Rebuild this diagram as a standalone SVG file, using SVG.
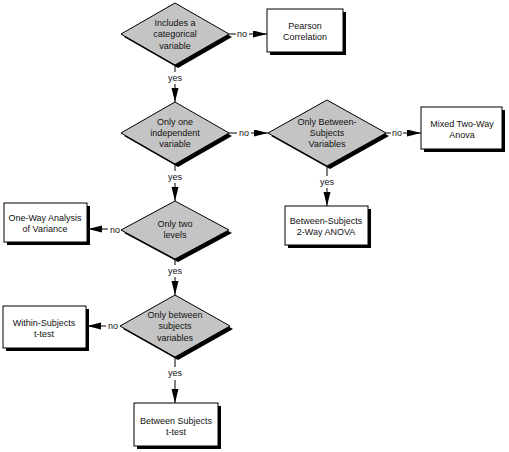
<svg xmlns="http://www.w3.org/2000/svg" width="509" height="452" viewBox="0 0 509 452">
<style>
  .bg{fill:#ffffff}
  .box{fill:#ffffff;stroke:#000;stroke-width:1}
  .dia{fill:#c4c4c4;stroke:#000;stroke-width:1}
  .sh{fill:#000;stroke:none}
  .t{font-family:"Liberation Sans",Arial,sans-serif;font-size:9px;fill:#111;text-anchor:middle}
  .ln{stroke:#000;stroke-width:1;fill:none}
</style>
<defs>
  <marker id="ah" markerUnits="userSpaceOnUse" markerWidth="15" markerHeight="8" refX="14" refY="3.5" orient="auto">
    <path d="M0,0 L14,3.5 L0,7 Z" fill="#000"/>
  </marker>
</defs>
<rect class="bg" x="0" y="0" width="509" height="452"/>

<g id="connectors">
  <!-- d1 -> pearson -->
  <line class="ln" x1="229" y1="34" x2="236" y2="34"/>
  <text class="t" x="242" y="37">no</text>
  <line class="ln" x1="249" y1="34" x2="267" y2="34" marker-end="url(#ah)"/>
  <!-- d1 -> d2 -->
  <line class="ln" x1="175" y1="65" x2="175" y2="72"/>
  <text class="t" x="175" y="81">yes</text>
  <line class="ln" x1="175" y1="84" x2="175" y2="102" marker-end="url(#ah)"/>
  <!-- d2 -> d2b -->
  <line class="ln" x1="229" y1="133" x2="237" y2="133"/>
  <text class="t" x="244" y="136">no</text>
  <line class="ln" x1="251" y1="133" x2="268" y2="133" marker-end="url(#ah)"/>
  <!-- d2b -> mixed -->
  <line class="ln" x1="386" y1="133" x2="391" y2="133"/>
  <text class="t" x="397" y="136">no</text>
  <line class="ln" x1="403" y1="133" x2="421" y2="133" marker-end="url(#ah)"/>
  <!-- d2b -> between 2-way -->
  <line class="ln" x1="327" y1="166" x2="327" y2="176"/>
  <text class="t" x="327" y="185">yes</text>
  <line class="ln" x1="327" y1="188" x2="327" y2="206" marker-end="url(#ah)"/>
  <!-- d2 -> d3 -->
  <line class="ln" x1="175" y1="164" x2="175" y2="171"/>
  <text class="t" x="175" y="180">yes</text>
  <line class="ln" x1="175" y1="183" x2="175" y2="201" marker-end="url(#ah)"/>
  <!-- d3 -> one-way -->
  <line class="ln" x1="121" y1="230" x2="122" y2="230"/>
  <text class="t" x="115" y="233">no</text>
  <line class="ln" x1="108" y1="229" x2="88" y2="229" marker-end="url(#ah)"/>
  <!-- d3 -> d4 -->
  <line class="ln" x1="175" y1="259" x2="175" y2="265"/>
  <text class="t" x="175" y="274">yes</text>
  <line class="ln" x1="175" y1="277" x2="175" y2="295" marker-end="url(#ah)"/>
  <!-- d4 -> within -->
  <text class="t" x="113" y="329">no</text>
  <line class="ln" x1="106" y1="326" x2="87" y2="326" marker-end="url(#ah)"/>
  <!-- d4 -> between t-test -->
  <line class="ln" x1="175" y1="357" x2="175" y2="367"/>
  <text class="t" x="175" y="376">yes</text>
  <line class="ln" x1="175" y1="380" x2="175" y2="403" marker-end="url(#ah)"/>
</g>

<g id="d1">
  <polygon class="sh" points="178,6 232,37 178,68 124,37"/>
  <polygon class="dia" points="175,3 229,34 175,65 121,34"/>
  <text class="t" x="175" y="26">Includes a</text>
  <text class="t" x="175" y="37">categorical</text>
  <text class="t" x="175" y="49">variable</text>
</g>

<g id="pearson">
  <rect class="sh" x="270" y="12" width="76" height="43"/>
  <rect class="box" x="267" y="9" width="76" height="43"/>
  <text class="t" x="305" y="29">Pearson</text>
  <text class="t" x="305" y="40">Correlation</text>
</g>

<g id="d2">
  <polygon class="sh" points="178,105 232,136 178,167 124,136"/>
  <polygon class="dia" points="175,102 229,133 175,164 121,133"/>
  <text class="t" x="175" y="125">Only one</text>
  <text class="t" x="175" y="136">independent</text>
  <text class="t" x="175" y="147">variable</text>
</g>

<g id="d2b">
  <polygon class="sh" points="330,103 389,136 330,169 271,136"/>
  <polygon class="dia" points="327,100 386,133 327,166 268,133"/>
  <text class="t" x="327" y="125">Only Between-</text>
  <text class="t" x="327" y="136">Subjects</text>
  <text class="t" x="327" y="147">Variables</text>
</g>

<g id="mixed">
  <rect class="sh" x="424" y="110" width="81" height="42"/>
  <rect class="box" x="421" y="107" width="81" height="42"/>
  <text class="t" x="462" y="127">Mixed Two-Way</text>
  <text class="t" x="462" y="138">Anova</text>
</g>

<g id="between2way">
  <rect class="sh" x="288" y="209" width="83" height="39"/>
  <rect class="box" x="285" y="206" width="83" height="39"/>
  <text class="t" x="326" y="224">Between-Subjects</text>
  <text class="t" x="326" y="235">2-Way ANOVA</text>
</g>

<g id="d3">
  <polygon class="sh" points="178,204 232,233 178,262 124,233"/>
  <polygon class="dia" points="175,201 229,230 175,259 121,230"/>
  <text class="t" x="175" y="227">Only two</text>
  <text class="t" x="175" y="238">levels</text>
</g>

<g id="oneway">
  <rect class="sh" x="7" y="206" width="83" height="39"/>
  <rect class="box" x="4" y="203" width="83" height="39"/>
  <text class="t" x="45" y="221">One-Way Analysis</text>
  <text class="t" x="45" y="232">of Variance</text>
</g>

<g id="d4">
  <polygon class="sh" points="178,298 233,329 178,360 123,329"/>
  <polygon class="dia" points="175,295 230,326 175,357 120,326"/>
  <text class="t" x="175" y="318">Only between</text>
  <text class="t" x="175" y="329">subjects</text>
  <text class="t" x="175" y="341">variables</text>
</g>

<g id="within">
  <rect class="sh" x="6" y="309" width="83" height="42"/>
  <rect class="box" x="3" y="306" width="83" height="42"/>
  <text class="t" x="44" y="326">Within-Subjects</text>
  <text class="t" x="44" y="337">t-test</text>
</g>

<g id="betweent">
  <rect class="sh" x="137" y="406" width="84" height="43"/>
  <rect class="box" x="134" y="403" width="84" height="43"/>
  <text class="t" x="176" y="424">Between Subjects</text>
  <text class="t" x="176" y="435">t-test</text>
</g>
</svg>
